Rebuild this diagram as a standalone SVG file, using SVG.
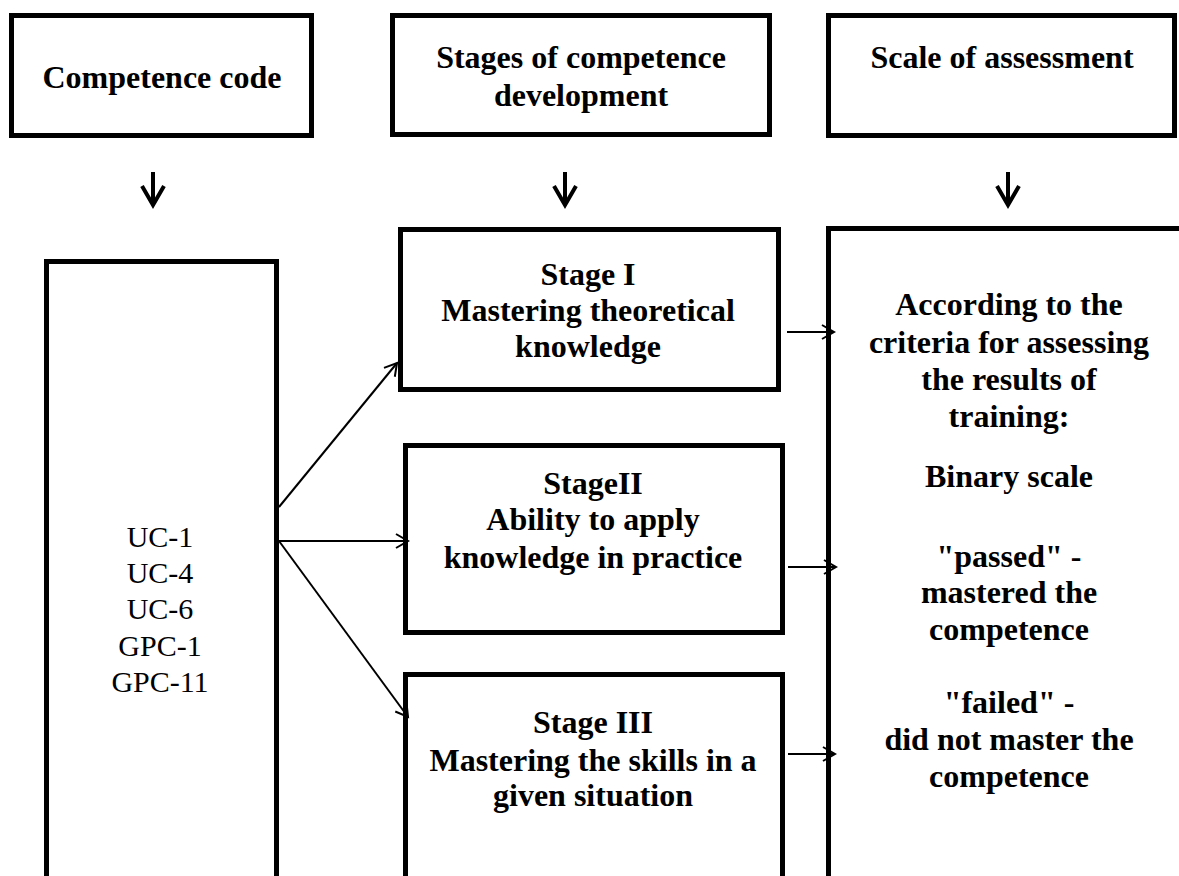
<svg xmlns="http://www.w3.org/2000/svg" width="1179" height="876" viewBox="0 0 1179 876">
<style>
.box{fill:#fff;stroke:#000;stroke-width:5}
.b{font-family:"Liberation Serif","Times New Roman",serif;font-weight:bold;font-size:32px;text-anchor:middle;fill:#000}
.r{font-family:"Liberation Serif","Times New Roman",serif;font-size:30px;text-anchor:middle;fill:#000}
.c{stroke:#000;stroke-width:2;fill:none}
.down{stroke:#000;stroke-width:4;fill:none}
</style>
<defs>
<marker id="ah" markerUnits="userSpaceOnUse" markerWidth="20" markerHeight="20" viewBox="-14 -10 16 20" refX="0" refY="0" orient="auto">
<path d="M-12,-7 L0,0 L-12,7" fill="none" stroke="#000" stroke-width="2"/>
</marker>
</defs>
<rect width="1179" height="876" fill="#fff"/>
<g id="h1"><rect class="box" x="11.5" y="15.5" width="300" height="120"/><text class="b" x="162" y="88">Competence code</text></g>
<g id="h2"><rect class="box" x="392.5" y="15.5" width="377" height="119"/><text class="b" x="581" y="68">Stages of competence</text><text class="b" x="581" y="106">development</text></g>
<g id="h3"><rect class="box" x="828.5" y="15.5" width="346" height="120"/><text class="b" x="1002" y="68">Scale of assessment</text></g>
<g id="codes"><rect class="box" x="46.5" y="261.5" width="230" height="700"/>
<text class="r" x="160" y="547">UC-1</text><text class="r" x="160" y="583">UC-4</text><text class="r" x="160" y="619">UC-6</text><text class="r" x="160" y="656">GPC-1</text><text class="r" x="160" y="692">GPC-11</text></g>
<g id="s1"><rect class="box" x="400.5" y="229.5" width="378" height="160"/><text class="b" x="588" y="285">Stage I</text><text class="b" x="588" y="321">Mastering theoretical</text><text class="b" x="588" y="357">knowledge</text></g>
<g id="s2"><rect class="box" x="405.5" y="445.5" width="377" height="187"/><text class="b" x="593" y="494">StageII</text><text class="b" x="593" y="530">Ability to apply</text><text class="b" x="593" y="568">knowledge in practice</text></g>
<g id="s3"><rect class="box" x="405.5" y="674.5" width="377" height="300"/><text class="b" x="593" y="733">Stage III</text><text class="b" x="593" y="771">Mastering the skills in a</text><text class="b" x="593" y="806">given situation</text></g>
<g id="scale"><rect class="box" x="828.5" y="228.5" width="400" height="700"/>
<text class="b" x="1009" y="315">According to the</text><text class="b" x="1009" y="353">criteria for assessing</text><text class="b" x="1009" y="390">the results of</text><text class="b" x="1009" y="427">training:</text>
<text class="b" x="1009" y="487">Binary scale</text>
<text class="b" x="1009" y="567">"passed" -</text><text class="b" x="1009" y="603">mastered the</text><text class="b" x="1009" y="640">competence</text>
<text class="b" x="1009" y="713">"failed" -</text><text class="b" x="1009" y="750">did not master the</text><text class="b" x="1009" y="787">competence</text></g>
<g id="connectors">
<path class="down" d="M153,172 V205 M142,186 L153,205 L164,186"/>
<path class="down" d="M565,172 V205 M554,186 L565,205 L576,186"/>
<path class="down" d="M1008,172 V205 M997,186 L1008,205 L1019,186"/>
<line class="c" x1="279" y1="507" x2="397" y2="363" marker-end="url(#ah)"/>
<line class="c" x1="279" y1="541" x2="408" y2="541" marker-end="url(#ah)"/>
<line class="c" x1="279" y1="541" x2="408" y2="717" marker-end="url(#ah)"/>
<line class="c" x1="787" y1="332" x2="834" y2="332" marker-end="url(#ah)"/>
<line class="c" x1="788" y1="567" x2="836" y2="567" stroke-width="3" marker-end="url(#ah)"/>
<line class="c" x1="788" y1="754" x2="835" y2="754" marker-end="url(#ah)"/>
</g>
</svg>
